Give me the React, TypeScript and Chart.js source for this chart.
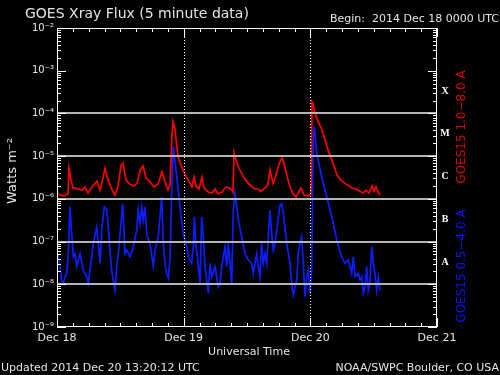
import React, { useEffect, useRef } from 'react';
import { Chart, registerables } from 'chart.js';

Chart.register(...registerables);

// ---- tick labels / categories ----
const dayLabels = ['Dec 18', 'Dec 19', 'Dec 20', 'Dec 21'];
const dayHours = [0, 24, 48, 72];
const decadeValues = [1e-9, 1e-8, 1e-7, 1e-6, 1e-5, 1e-4, 1e-3, 1e-2];
const decadeLabels = ['10⁻⁹', '10⁻⁸', '10⁻⁷', '10⁻⁶', '10⁻⁵', '10⁻⁴', '10⁻³', '10⁻²'];
const flareClasses = ['X', 'M', 'C', 'B', 'A'];
const flareClassCenters = [3.16e-4, 3.16e-5, 3.16e-6, 3.16e-7, 3.16e-8];
const bandLines = [1e-4, 1e-5, 1e-6, 1e-7, 1e-8];
const dottedDays = [24, 48];

// ---- series: GOES15 1.0-8.0 A (long channel) ----
const longHours = [
  0, 0.57, 1.33, 2.08, 2.27, 2.65, 3.03, 3.98, 4.74, 5.3, 5.87, 6.63, 7.58, 8.15, 8.72, 9.09, 9.47,
  10.04, 10.61, 10.99, 11.56, 12.13, 12.5, 13.07, 13.83, 14.59, 15.16, 15.73, 16.29, 16.86, 17.62,
  18.38, 19.14, 19.89, 20.46, 21.03, 21.41, 21.79, 21.98, 22.36, 22.93, 23.5, 24.06, 24.63, 25.2,
  25.58, 25.96, 26.34, 26.9, 27.47, 27.85, 28.61, 29.37, 29.94, 30.5, 31.26, 32.02, 32.59, 33.16,
  33.35, 33.54, 33.91, 34.48, 35.24, 36.0, 36.76, 37.52, 38.08, 38.65, 39.41, 39.98, 40.36, 40.93,
  41.5, 42.06, 42.63, 43.0, 43.58, 44.15, 44.72, 45.28, 45.85, 46.23, 46.8, 47.56, 48.13, 48.32,
  48.5, 48.88, 49.45, 50.21, 50.78, 51.35, 51.91, 52.48, 53.05, 53.81, 54.57, 55.33, 55.9, 56.65,
  57.41, 57.98, 58.55, 59.12, 59.68, 60.06, 60.44, 60.82, 61.2,
];
const longFlux = [
  1.37e-6, 1.23e-6, 1.17e-6, 1.3e-6, 5.2e-6, 2.75e-6, 1.8e-6, 1.7e-6, 1.6e-6, 1.9e-6, 1.37e-6, 1.9e-6,
  2.6e-6, 1.6e-6, 3.1e-6, 5.2e-6, 3.4e-6, 2.1e-6, 1.45e-6, 1.23e-6, 2.0e-6, 6.1e-6, 6.9e-6, 2.75e-6,
  2.2e-6, 2.0e-6, 2.3e-6, 4.7e-6, 5.9e-6, 3.1e-6, 2.5e-6, 1.9e-6, 2.2e-6, 4.3e-6, 2.5e-6, 1.6e-6,
  2.1e-6, 3.1e-5, 6.3e-5, 4.1e-5, 9.5e-6, 6.1e-6, 4.3e-6, 3.1e-6, 2.3e-6, 1.9e-6, 3.2e-6, 2.0e-6,
  1.7e-6, 3.2e-6, 1.8e-6, 1.45e-6, 1.37e-6, 1.7e-6, 1.3e-6, 1.45e-6, 1.9e-6, 1.8e-6, 1.6e-6, 1.45e-6,
  1.18e-5, 8.1e-6, 5.2e-6, 3.4e-6, 2.5e-6, 2.0e-6, 1.7e-6, 1.7e-6, 1.5e-6, 1.8e-6, 2.2e-6, 4.7e-6,
  2.3e-6, 3.6e-6, 6.6e-6, 9.1e-6, 6.9e-6, 3.4e-6, 1.9e-6, 1.3e-6, 1.1e-6, 1.5e-6, 1.8e-6, 1.23e-6,
  1.17e-6, 1.3e-6, 1.86e-4, 1.7e-4, 1.0e-4, 6.6e-5, 4.1e-5, 2.4e-5, 1.4e-5, 9.1e-6, 5.9e-6, 3.6e-6,
  2.75e-6, 2.3e-6, 2.0e-6, 1.8e-6, 1.7e-6, 1.5e-6, 1.37e-6, 1.6e-6, 1.37e-6, 2.0e-6, 1.5e-6, 1.9e-6,
  1.45e-6, 1.23e-6,
];

// ---- series: GOES15 0.5-4.0 A (short channel) ----
const shortHours = [
  0, 0.25, 0.57, 0.89, 1.19, 1.52, 1.84, 2.14, 2.46, 2.79, 3.09, 3.41, 3.73, 4.36, 4.98, 5.63, 5.93,
  6.57, 6.88, 7.52, 7.83, 8.15, 8.47, 8.96, 9.42, 9.72, 10.04, 10.36, 10.99, 11.31, 11.61, 11.94,
  12.45, 12.88, 13.21, 13.83, 14.46, 15.1, 15.4, 15.73, 16.05, 16.35, 16.67, 17.0, 17.62, 18.25,
  18.57, 19.19, 19.84, 20.14, 20.46, 20.78, 21.09, 21.41, 21.73, 22.04, 22.68, 23.3, 23.93, 24.57,
  24.88, 25.52, 25.83, 26.01, 26.28, 26.66, 27.09, 27.42, 27.72, 28.04, 28.67, 28.99, 29.31, 29.94,
  30.56, 30.88, 31.21, 31.83, 32.15, 32.46, 32.78, 33.1, 33.4, 33.73, 34.35, 35.0, 35.62, 36.25,
  36.89, 37.19, 37.84, 38.14, 38.46, 38.79, 39.09, 39.41, 39.73, 40.04, 40.36, 40.68, 40.98, 41.3,
  41.63, 42.25, 42.57, 42.88, 43.52, 44.15, 44.47, 44.77, 45.42, 45.72, 46.04, 46.36, 46.67, 46.99,
  47.31, 47.61, 47.94, 48.26, 48.37, 48.56, 48.75, 49.2, 50.15, 51.1, 52.05, 53.0, 53.94, 54.57,
  55.19, 55.84, 56.14, 56.46, 57.09, 57.41, 57.73, 58.04, 58.36, 58.68, 58.98, 59.3, 59.63, 59.93,
  60.25, 60.57, 60.88, 61.2,
];
const shortFlux = [
  3.7e-8, 4.4e-8, 2.6e-8, 1.26e-8, 1.05e-8, 1.5e-8, 1.8e-8, 5.2e-8, 6.5e-7, 1.5e-7, 4.4e-8, 5.2e-8,
  2.6e-8, 5.2e-8, 2.1e-8, 1.5e-8, 1.05e-8, 4.4e-8, 9.1e-8, 2.2e-7, 9.1e-8, 3.1e-8, 1.86e-7, 6.5e-7,
  5.5e-7, 2.2e-7, 6.3e-8, 2.1e-8, 7.2e-9, 2.6e-8, 5.2e-8, 1.5e-7, 7.8e-7, 5.2e-8, 6.3e-8, 4.4e-8,
  7.6e-8, 1.86e-7, 5.5e-7, 2.7e-7, 6.5e-7, 3.2e-7, 6.5e-7, 1.5e-7, 9.1e-8, 2.6e-8, 6.3e-8, 1.3e-7,
  1.12e-6, 9.1e-8, 3.1e-8, 1.8e-8, 1.4e-8, 3.7e-8, 1.35e-6, 1.66e-5, 3.3e-6, 6.5e-7, 1.5e-7, 7.6e-8,
  4.4e-8, 3.1e-8, 7.6e-8, 3.8e-7, 9.1e-8, 3.7e-8, 1.05e-8, 3.8e-7, 1.3e-7, 2.6e-8, 6.2e-9, 3.1e-8,
  1.5e-8, 2.6e-8, 8.7e-9, 1.05e-8, 2.6e-8, 7.6e-8, 2.6e-8, 9.1e-8, 3.1e-8, 1.05e-8, 5.5e-7, 1.35e-6,
  3.2e-7, 1.3e-7, 5.2e-8, 3.7e-8, 3.1e-8, 1.8e-8, 5.2e-8, 2.6e-8, 1.5e-8, 9.1e-8, 3.1e-8, 5.2e-8,
  3.1e-8, 1.3e-7, 5.5e-7, 1.5e-7, 6.3e-8, 9.1e-8, 1.86e-7, 7.1e-7, 7.8e-7, 4.6e-7, 9.1e-8, 3.1e-8,
  1.05e-8, 5.6e-9, 1.26e-8, 5.2e-8, 9.1e-8, 1.3e-7, 3.1e-8, 5.1e-9, 1.5e-8, 2.1e-8, 6.2e-9, 2.1e-8,
  3.8e-7, 2.4e-5, 4.9e-5, 1.18e-5, 3.3e-6, 1.12e-6, 3.8e-7, 1.1e-7, 4.4e-8, 3.1e-8, 3.7e-8, 1.8e-8,
  4.4e-8, 1.5e-8, 1.8e-8, 1.26e-8, 1.5e-8, 6.2e-9, 8.7e-9, 2.6e-8, 7.2e-9, 1.05e-8, 7.6e-8, 3.1e-8,
  1.8e-8, 7.2e-9, 1.5e-8, 7.2e-9,
];

const TEXT = '#e4e4e4';
const FONT = '"DejaVu Sans", sans-serif';

const goesPlugin = {
  id: 'goesDecor',
  beforeDraw(chart: any) {
    const ctx = chart.ctx;
    ctx.save();
    ctx.fillStyle = '#000000';
    ctx.fillRect(0, 0, chart.width, chart.height);
    ctx.restore();
  },
  afterDatasetsDraw(chart: any) {
    const ctx = chart.ctx;
    const { left, right, top, bottom } = chart.chartArea;
    const x = chart.scales.x;
    const y = chart.scales.y;
    ctx.save();

    // flare-class band lines
    ctx.strokeStyle = '#b4b4b4';
    ctx.lineWidth = 2;
    bandLines.forEach((v) => {
      const py = Math.round(y.getPixelForValue(v));
      ctx.beginPath();
      ctx.moveTo(left, py);
      ctx.lineTo(right, py);
      ctx.stroke();
    });

    // dotted day separators
    ctx.strokeStyle = '#ffffff';
    ctx.lineWidth = 1;
    ctx.setLineDash([1, 2]);
    dottedDays.forEach((h) => {
      const px = Math.round(x.getPixelForValue(h)) + 0.5;
      ctx.beginPath();
      ctx.moveTo(px, top);
      ctx.lineTo(px, bottom);
      ctx.stroke();
    });
    ctx.setLineDash([]);

    // frame
    ctx.strokeStyle = '#ffffff';
    ctx.lineWidth = 1;
    ctx.strokeRect(left + 0.5, top + 0.5, right - left - 1, bottom - top - 1);

    // inward y ticks (log minors)
    ctx.beginPath();
    for (let d = 0; d < decadeValues.length; d++) {
      const base = decadeValues[d];
      const maxM = d === decadeValues.length - 1 ? 1 : 9;
      for (let m = 1; m <= maxM; m++) {
        const py = Math.round(y.getPixelForValue(base * m)) + 0.5;
        const len = m === 1 ? 9 : 4;
        ctx.moveTo(left, py);
        ctx.lineTo(left + len, py);
        ctx.moveTo(right, py);
        ctx.lineTo(right - len, py);
      }
    }
    // inward x ticks every 3 hours
    for (let h = 0; h <= 72; h += 3) {
      const px = Math.round(x.getPixelForValue(h)) + 0.5;
      const len = h % 24 === 0 ? 9 : 4;
      ctx.moveTo(px, top);
      ctx.lineTo(px, top + len);
      ctx.moveTo(px, bottom);
      ctx.lineTo(px, bottom - len);
    }
    ctx.stroke();

    // flare class letters
    ctx.fillStyle = '#ffffff';
    ctx.font = 'bold 10px "Liberation Serif", serif';
    ctx.textAlign = 'center';
    ctx.textBaseline = 'middle';
    flareClasses.forEach((c, i) => {
      ctx.fillText(c, right + 8, y.getPixelForValue(flareClassCenters[i]) - 1);
    });

    // titles
    ctx.fillStyle = TEXT;
    ctx.textBaseline = 'alphabetic';
    ctx.textAlign = 'left';
    ctx.font = `14px ${FONT}`;
    ctx.fillText('GOES Xray Flux (5 minute data)', 25, 18);
    ctx.textAlign = 'right';
    ctx.font = `11px ${FONT}`;
    ctx.fillText('Begin:  2014 Dec 18 0000 UTC', 499, 22);

    ctx.textAlign = 'center';
    ctx.fillText('Universal Time', (left + right) / 2 + 2, 355);
    ctx.textAlign = 'left';
    ctx.fillText('Updated 2014 Dec 20 13:20:12 UTC', 1, 371);
    ctx.textAlign = 'right';
    ctx.fillText('NOAA/SWPC Boulder, CO USA', 499, 371);

    // rotated labels
    const rot = (text: string, cx: number, cy: number, color: string, size: number) => {
      ctx.save();
      ctx.translate(cx, cy);
      ctx.rotate(-Math.PI / 2);
      ctx.fillStyle = color;
      ctx.font = `${size}px ${FONT}`;
      ctx.textAlign = 'center';
      ctx.textBaseline = 'middle';
      ctx.fillText(text, 0, 0);
      ctx.restore();
    };
    rot('Watts m⁻²', 13, 171, TEXT, 13);
    rot('GOES15 1.0\u22128.0 A', 462, 127, '#e00000', 12);
    rot('GOES15 0.5\u22124.0 A', 462, 266, '#1010ff', 12);

    ctx.restore();
  },
};

export default function App() {
  const ref = useRef<HTMLCanvasElement | null>(null);

  useEffect(() => {
    document.body.style.margin = '0';
    document.body.style.background = '#000';
    const canvas = ref.current;
    if (!canvas) return;

    const longData = longHours.map((h, i) => ({ x: h, y: longFlux[i] }));
    const shortData = shortHours.map((h, i) => ({ x: h, y: shortFlux[i] }));

    const chart = new Chart(canvas, {
      type: 'line',
      data: {
        datasets: [
          {
            label: 'GOES15 1.0-8.0 A',
            data: longData,
            borderColor: '#ff0000',
            borderWidth: 1.7,
            pointRadius: 0,
            tension: 0,
          },
          {
            label: 'GOES15 0.5-4.0 A',
            data: shortData,
            borderColor: '#0a1eff',
            borderWidth: 1.7,
            pointRadius: 0,
            tension: 0,
          },
        ],
      },
      options: {
        responsive: false,
        animation: false,
        devicePixelRatio: 1,
        layout: { padding: 0 },
        plugins: {
          legend: { display: false },
          tooltip: { enabled: false },
          title: { display: false },
        },
        scales: {
          x: {
            type: 'linear',
            position: 'bottom',
            min: 0,
            max: 72,
            grid: { display: false, drawTicks: false },
            border: { display: false },
            afterBuildTicks: (s: any) => {
              s.ticks = dayHours.map((v) => ({ value: v }));
            },
            afterFit: (s: any) => {
              s.height = 48;
            },
            ticks: {
              autoSkip: false,
              maxRotation: 0,
              minRotation: 0,
              padding: 5,
              color: TEXT,
              font: { family: FONT, size: 11 },
              callback: (_v: any, i: number) => dayLabels[i],
            },
          },
          xTop: {
            type: 'linear',
            position: 'top',
            min: 0,
            max: 72,
            grid: { display: false, drawTicks: false },
            border: { display: false },
            ticks: { display: false },
            afterFit: (s: any) => {
              s.height = 28;
            },
          },
          y: {
            type: 'logarithmic',
            position: 'left',
            min: 1e-9,
            max: 1e-2,
            grid: { display: false, drawTicks: false },
            border: { display: false },
            afterBuildTicks: (s: any) => {
              s.ticks = decadeValues.map((v) => ({ value: v, major: true }));
            },
            afterFit: (s: any) => {
              s.width = 57;
            },
            ticks: {
              autoSkip: false,
              padding: 3,
              color: TEXT,
              font: { family: FONT, size: 10 },
              callback: (_v: any, i: number) => decadeLabels[i],
            },
          },
          yRight: {
            type: 'logarithmic',
            position: 'right',
            min: 1e-9,
            max: 1e-2,
            grid: { display: false, drawTicks: false },
            border: { display: false },
            ticks: { display: false },
            afterFit: (s: any) => {
              s.width = 63;
            },
          },
        },
      } as any,
      plugins: [goesPlugin],
    });

    return () => chart.destroy();
  }, []);

  return <canvas ref={ref} width={500} height={375} style={{ display: 'block' }} />;
}
